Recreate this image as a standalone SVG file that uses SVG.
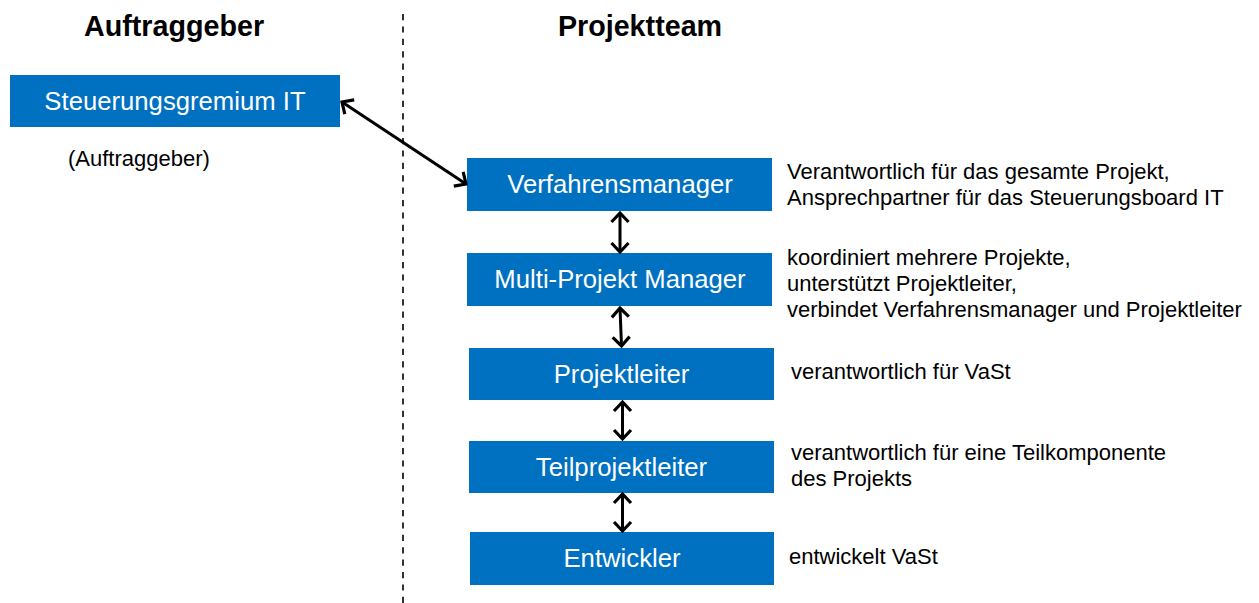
<svg xmlns="http://www.w3.org/2000/svg" width="1259" height="603" viewBox="0 0 1259 603">
  <style>
    .box { fill: #0070C0; }
    .label { font-family: "Liberation Sans", Arial, sans-serif; font-size: 25.7px; fill: #ffffff; text-anchor: middle; }
    .head { font-family: "Liberation Sans", Arial, sans-serif; font-size: 28.7px; font-weight: bold; fill: #000000; text-anchor: middle; }
    .desc { font-family: "Liberation Sans", Arial, sans-serif; font-size: 22px; fill: #000000; }
    .conn { stroke: #000000; stroke-width: 3; fill: none; marker-start: url(#tip); marker-end: url(#tip); }
    .divider { stroke: #000000; stroke-width: 1.6; stroke-dasharray: 6.2 6.2; }
  </style>
  <defs>
    <marker id="tip" markerUnits="userSpaceOnUse" viewBox="-12 -12 24 24" markerWidth="24" markerHeight="24" refX="0" refY="0" orient="auto-start-reverse">
      <path d="M -9 -8.5 L 0 0 L -9 8.5" fill="none" stroke="#000000" stroke-width="3.2"/>
    </marker>
  </defs>
  <rect width="1259" height="603" fill="#ffffff"/>

  <!-- column headings and divider -->
  <text class="head" x="174" y="36">Auftraggeber</text>
  <text class="head" x="640" y="36">Projektteam</text>
  <line class="divider" x1="403" y1="14" x2="403" y2="603"/>

  <!-- client side -->
  <g id="steuerungsgremium">
    <rect class="box" x="10" y="75" width="330" height="52"/>
    <text class="label" x="175" y="110">Steuerungsgremium IT</text>
    <text class="desc" x="68" y="166">(Auftraggeber)</text>
  </g>

  <!-- project team -->
  <g id="verfahrensmanager">
    <rect class="box" x="467" y="158" width="305" height="53"/>
    <text class="label" x="620" y="193">Verfahrensmanager</text>
    <text class="desc" x="787" y="179">Verantwortlich für das gesamte Projekt,</text>
    <text class="desc" x="787" y="205">Ansprechpartner für das Steuerungsboard IT</text>
  </g>

  <g id="multi-projekt-manager">
    <rect class="box" x="467" y="253" width="305" height="53"/>
    <text class="label" x="620" y="288">Multi-Projekt Manager</text>
    <text class="desc" x="787" y="265">koordiniert mehrere Projekte,</text>
    <text class="desc" x="787" y="291">unterstützt Projektleiter,</text>
    <text class="desc" x="787" y="317">verbindet Verfahrensmanager und Projektleiter</text>
  </g>

  <g id="projektleiter">
    <rect class="box" x="469" y="348" width="305" height="52"/>
    <text class="label" x="621.5" y="383">Projektleiter</text>
    <text class="desc" x="791" y="379">verantwortlich für VaSt</text>
  </g>

  <g id="teilprojektleiter">
    <rect class="box" x="469" y="441" width="305" height="52"/>
    <text class="label" x="621.5" y="476">Teilprojektleiter</text>
    <text class="desc" x="791" y="460">verantwortlich für eine Teilkomponente</text>
    <text class="desc" x="791" y="486">des Projekts</text>
  </g>

  <g id="entwickler">
    <rect class="box" x="470" y="532" width="304" height="53"/>
    <text class="label" x="622" y="567">Entwickler</text>
    <text class="desc" x="789" y="564">entwickelt VaSt</text>
  </g>

  <!-- reporting lines -->
  <g id="connectors">
    <line class="conn" x1="342" y1="102" x2="466" y2="184"/>
    <line class="conn" x1="620" y1="213" x2="620" y2="252"/>
    <line class="conn" x1="620" y1="308" x2="621.5" y2="346"/>
    <line class="conn" x1="622.5" y1="402" x2="622.5" y2="439"/>
    <line class="conn" x1="622.5" y1="494" x2="622.5" y2="531"/>
  </g>
</svg>
